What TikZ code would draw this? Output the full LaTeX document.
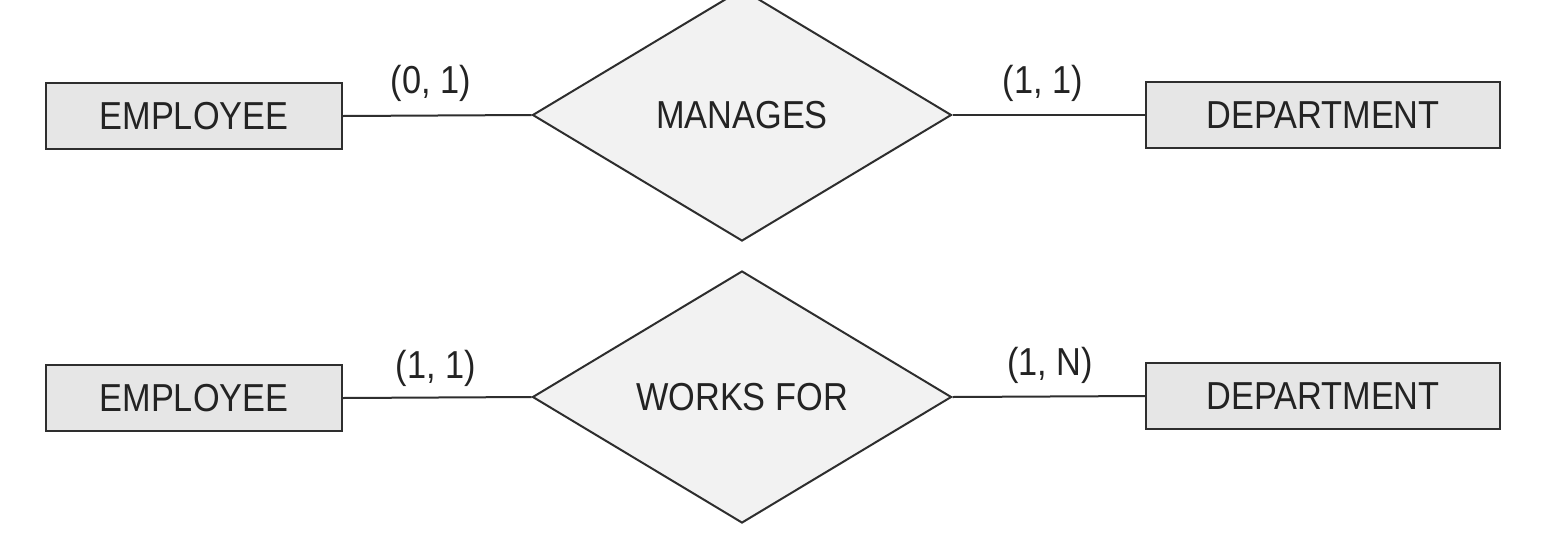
\documentclass[tikz,border=0pt]{standalone}
\usepackage{fontspec}
\newfontfamily\erfont[FakeStretch=0.88]{Liberation Sans}
\usetikzlibrary{shapes.geometric}
\definecolor{boxfill}{HTML}{E6E6E6}
\definecolor{relfill}{HTML}{F2F2F2}
\definecolor{edge}{HTML}{2E2E2E}
\definecolor{ink}{HTML}{232323}
\tikzset{
  erfont/.style={font=\erfont\fontsize{39}{42}\selectfont, text=ink},
  entity/.style={draw=edge, line width=2pt, fill=boxfill, minimum height=66pt, inner sep=0pt, erfont},
  rel/.style={draw=edge, line width=2pt, fill=relfill, shape=diamond, inner sep=0pt,
    minimum width=419pt, minimum height=252pt, erfont},
  card/.style={anchor=base, inner sep=0pt, erfont},
  link/.style={draw=edge, line width=2pt}
}
\begin{document}
\begin{tikzpicture}[x=1pt, y=-1pt]
\clip (0,0) rectangle (1544,544);
\fill[white] (0,0) rectangle (1544,544);
% top row
\node[entity, minimum width=296pt] (e1) at (194,116) {EMPLOYEE};
\node[rel] (m1) at (742,115) {MANAGES};
\node[entity, minimum width=354pt] (d1) at (1323,115) {DEPARTMENT};
\draw[link] (e1.east) -- (m1.west);
\draw[link] (m1.east) -- (d1.west);
\node[card] (c1) at (431,93) {(0, 1)};
\node[card] (c2) at (1043,93) {(1, 1)};
% bottom row
\node[entity, minimum width=296pt] (e2) at (194,398) {EMPLOYEE};
\node[rel] (w2) at (742,397) {WORKS FOR};
\node[entity, minimum width=354pt] (d2) at (1323,396) {DEPARTMENT};
\draw[link] (e2.east) -- (w2.west);
\draw[link] (w2.east) -- (d2.west);
\node[card] (c3) at (436,378) {(1, 1)};
\node[card] (c4) at (1050,375) {(1, N)};
\end{tikzpicture}
\end{document}
